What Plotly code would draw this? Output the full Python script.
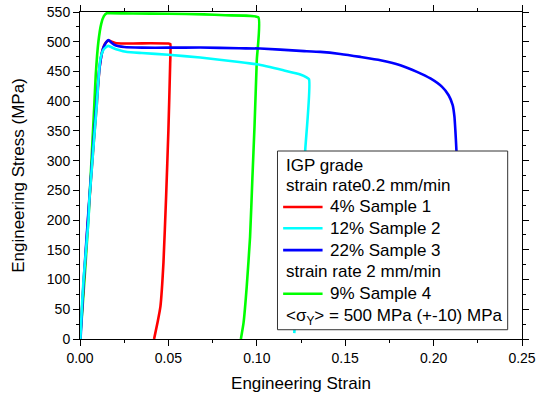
import plotly.graph_objects as go

# ---- data ----
s1_strain = [0.0, 0.002, 0.005, 0.008, 0.0095, 0.011, 0.0125, 0.014, 0.0155, 0.0165, 0.018, 0.020, 0.025, 0.030, 0.040, 0.050, 0.0511,
             0.0510, 0.0500, 0.0487, 0.0472, 0.0455, 0.0440, 0.0419]
s1_stress = [0, 90, 220, 340, 395, 455, 483, 496, 501, 502, 500, 498, 497, 497, 497.5, 497, 496,
             463, 351, 239, 128, 55, 30, 0]

s2_strain = [0.0002, 0.001, 0.002, 0.0048, 0.0053, 0.0094, 0.0113, 0.013, 0.0148, 0.016, 0.019, 0.022, 0.026, 0.035, 0.050, 0.068,
             0.090, 0.100, 0.1151, 0.1246, 0.1295, 0.1274, 0.1245, 0.1212]
s2_stress = [0, 50, 100, 200, 234, 390, 467, 485, 491, 493, 489, 486, 483, 481, 478, 473.4,
             466, 462, 452, 445, 437, 318, 160, 10]

s3_strain = [0.0003, 0.002, 0.005, 0.009, 0.011, 0.013, 0.0148, 0.016, 0.018, 0.020, 0.025, 0.035, 0.050, 0.068, 0.090, 0.1019,
             0.1246, 0.1359, 0.1472, 0.1586, 0.1699, 0.1812, 0.1906, 0.1982, 0.2048, 0.2085, 0.2108, 0.2118, 0.2123, 0.2129,
             0.2140, 0.2150]
s3_stress = [0, 95, 225, 385, 455, 488, 499, 503, 498, 494, 491, 490, 490, 490.2, 489, 488.6,
             484.6, 482.9, 479.5, 474.5, 469, 460.5, 449.3, 438.2, 424, 410, 393.4, 373.7, 351.4, 317.8,
             200, 100]

s4_strain = [0.0, 0.001, 0.003, 0.005, 0.008, 0.0089, 0.0104, 0.012, 0.0135, 0.0151, 0.017, 0.030, 0.050, 0.070, 0.0821, 0.1009,
             0.1000, 0.0987, 0.0975, 0.0962, 0.0943, 0.0925, 0.0910]
s4_stress = [0, 35, 120, 215, 388, 444, 500, 530, 543, 548, 548, 547.5, 547, 546, 544.5, 541,
             469, 357, 270, 172, 88, 27, 0]

names = ["4% Sample 1", "12% Sample 2", "22% Sample 3", "9% Sample 4"]
colors = ["#ff0000", "#00ffff", "#0000ff", "#00ff00"]
xs = [s1_strain, s2_strain, s3_strain, s4_strain]
ys = [s1_stress, s2_stress, s3_stress, s4_stress]

legend_header = ["IGP grade", "strain rate0.2 mm/min"]
legend_mid = "strain rate 2 mm/min"
legend_note = "&lt;σ<sub>Y</sub>&gt; = 500 MPa (+-10) MPa"

x_title = "Engineering Strain"
y_title = "Engineering Stress (MPa)"

FONT = "Liberation Sans, Arial, sans-serif"

fig = go.Figure()
draw_order = [3, 0, 2, 1]
for i in draw_order:
    fig.add_trace(go.Scatter(x=xs[i], y=ys[i], mode="lines", name=names[i],
                             line=dict(color=colors[i], width=2.6, shape="spline", smoothing=0.4),
                             showlegend=False))

# ---- hand-built legend box (data coordinates) ----
bx0, bx1, by0, by1 = 0.1117, 0.2419, 15.6, 316.2
fig.add_shape(type="rect", xref="x", yref="y", x0=bx0, x1=bx1, y0=by0, y1=by1,
              fillcolor="white", line=dict(color="#333333", width=1), layer="above")
row_y = [292.6, 257.9, 222.1, 186.4, 149.4, 113.5, 76.1, 37.4]
text_x = 0.1151
sw_x0, sw_x1, item_x = 0.1149, 0.1372, 0.1400

rows = [(legend_header[0], None), (legend_header[1], None),
        (names[0], 0), (names[1], 1), (names[2], 2),
        (legend_mid, None), (names[3], 3), (legend_note, None)]
annotations = []
for (txt, ci), yv in zip(rows, row_y):
    if ci is None:
        annotations.append(dict(x=text_x, y=yv, xref="x", yref="y", text=txt, showarrow=False,
                                xanchor="left", yanchor="middle", font=dict(size=17, color="black", family=FONT)))
    else:
        fig.add_shape(type="line", xref="x", yref="y", x0=sw_x0, x1=sw_x1, y0=yv, y1=yv,
                      line=dict(color=colors[ci], width=2.6), layer="above")
        annotations.append(dict(x=item_x, y=yv, xref="x", yref="y", text=txt, showarrow=False,
                                xanchor="left", yanchor="middle", font=dict(size=17, color="black", family=FONT)))

axis_common = dict(showline=True, linecolor="black", linewidth=1, mirror="ticks",
                   ticks="outside", ticklen=6, tickwidth=1, tickcolor="black",
                   showgrid=False, zeroline=False, automargin=False,
                   tickfont=dict(size=14, color="black", family=FONT))

fig.update_xaxes(range=[0, 0.25], dtick=0.05, tick0=0, tickformat=".2f",
                 minor=dict(dtick=0.025, ticks="outside", ticklen=3, tickcolor="black", showgrid=False),
                 title=dict(text=x_title, font=dict(size=17, color="black", family=FONT), standoff=12),
                 **axis_common)
fig.update_yaxes(range=[0, 550], dtick=50, tick0=0,
                 minor=dict(dtick=25, ticks="outside", ticklen=3, tickcolor="black", showgrid=False),
                 title=dict(text=y_title, font=dict(size=17, color="black", family=FONT), standoff=17),
                 **axis_common)

fig.update_layout(width=536, height=397, margin=dict(l=80, r=14, t=12, b=58, autoexpand=False),
                  paper_bgcolor="white", plot_bgcolor="white",
                  font=dict(family=FONT, color="black"),
                  annotations=annotations, showlegend=False)

fig.write_html("out.html")
